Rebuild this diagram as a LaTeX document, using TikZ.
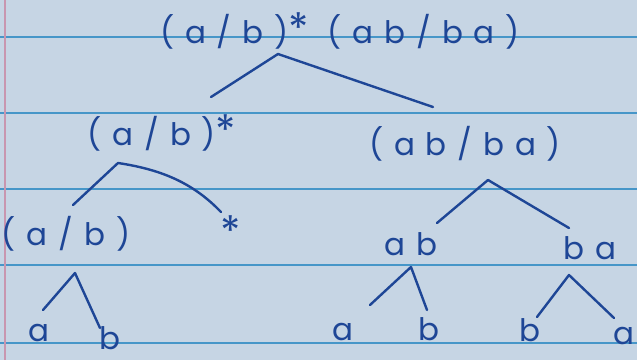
\documentclass[tikz,border=0pt]{standalone}
\usepackage{fontspec}
\newfontfamily\hand{Poppins}[LetterSpace=35]
\newcommand{\bigstar}{{\fontsize{42}{42}\selectfont *}}
\definecolor{paper}{RGB}{198,213,228}
\definecolor{rulec}{RGB}{70,150,200}
\definecolor{marginc}{RGB}{200,150,175}
\definecolor{inkc}{RGB}{30,70,150}
\begin{document}
\begin{tikzpicture}[x=1pt,y=-1pt,
  ink/.style={draw=inkc, line width=2.4pt, line cap=round, line join=round},
  lbl/.style={text=inkc, font=\hand\fontsize{31}{31}\selectfont, inner sep=0pt},
  ruling/.style={draw=rulec, line width=2pt}]
\fill[paper] (0,0) rectangle (637,360);
\useasboundingbox (0,0) rectangle (637,360);
\foreach \yy in {37,113,189,265,343} \draw[ruling] (0,\yy) -- (637,\yy);
\draw[marginc, line width=2pt] (5,0) -- (5,360);

% labels
\node[lbl] (root) at (340,31) {(a/b)\bigstar{} (ab/ba)};
\node[lbl] (l2a) at (162,133) {(a/b)\bigstar};
\node[lbl] (l2b) at (465,144) {(ab/ba)};
\node[lbl] (l3a) at (66,234) {(a/b)};
\node[lbl] (star) at (231,231) {\bigstar};
\node[lbl] (ab) at (411,244) {ab};
\node[lbl] (ba) at (590,248) {ba};
\node[lbl] (la) at (39,333) {a};
\node[lbl] (lb) at (110,338) {b};
\node[lbl] (ma) at (343,332) {a};
\node[lbl] (mb) at (429,329) {b};
\node[lbl] (nb) at (530,330) {b};
\node[lbl] (na) at (624,336) {a};

% connector end points
\coordinate (rA) at (278,54);  \coordinate (rL) at (211,97);  \coordinate (rR) at (433,107);
\coordinate (pA) at (118,163); \coordinate (pL) at (73,205);  \coordinate (pR) at (221,212);
\coordinate (qA) at (488,180); \coordinate (qL) at (437,223); \coordinate (qR) at (569,228);
\coordinate (sA) at (75,273);  \coordinate (sL) at (43,310);  \coordinate (sR) at (100,328);
\coordinate (tA) at (411,267); \coordinate (tL) at (370,305); \coordinate (tR) at (427,310);
\coordinate (uA) at (569,275); \coordinate (uL) at (537,317); \coordinate (uR) at (614,318);

\draw[ink] (rL) -- (rA) -- (rR);
\draw[ink] (pL) -- (pA) .. controls (165,170) and (195,185) .. (pR);
\draw[ink] (qL) -- (qA) -- (qR);
\draw[ink] (sL) -- (sA) -- (sR);
\draw[ink] (tL) -- (tA) -- (tR);
\draw[ink] (uL) -- (uA) -- (uR);
\end{tikzpicture}
\end{document}
